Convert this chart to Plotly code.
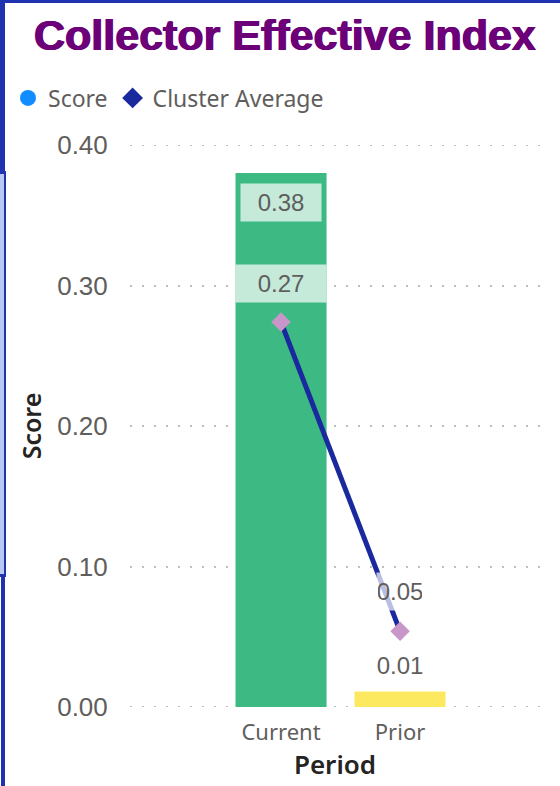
import plotly.graph_objects as go

# ---- data ----
periods = ["Current", "Prior"]
score = [0.38, 0.011]
score_labels = ["0.38", "0.01"]
cluster_avg = [0.274, 0.054]
cluster_labels = ["0.27", "0.05"]
bar_colors = ["#3dba84", "#fde95f"]
y_ticks = [0.0, 0.1, 0.2, 0.3, 0.4]
y_ticktext = ["0.00", "0.10", "0.20", "0.30", "0.40"]

W, H = 560, 786
L, R, T, B = 130, 20, 145, 79
pw, ph = W - L - R, H - T - B

def px(x):
    return (x - L) / pw

def py(y):
    return (H - B - y) / ph

fig = go.Figure()

fig.add_trace(go.Bar(
    x=periods, y=score, marker=dict(color=bar_colors, line=dict(width=0)),
    width=0.765, showlegend=False, hoverinfo="skip"))

fig.add_trace(go.Scatter(
    x=periods, y=cluster_avg, mode="lines+markers",
    line=dict(color="#1a2a9e", width=5),
    marker=dict(symbol="diamond", size=15, color="#c896c8", line=dict(width=0)),
    showlegend=False, hoverinfo="skip"))

# legend-only traces
fig.add_trace(go.Scatter(x=[None], y=[None], mode="markers", name="Score",
                         marker=dict(symbol="circle", size=18, color="#118dff")))
fig.add_trace(go.Scatter(x=[None], y=[None], mode="markers", name="Cluster Average",
                         marker=dict(symbol="diamond", size=18, color="#1a2a9e")))

label_font = dict(family="Liberation Sans, Arial", size=24, color="#605e5c")

# score labels
fig.add_annotation(x=periods[0], y=score[0], text=score_labels[0], showarrow=False,
                   yshift=-29, font=label_font, bgcolor="rgba(255,255,255,0.7)",
                   width=78, height=35)
fig.add_annotation(x=periods[1], y=score[1], text=score_labels[1], showarrow=False,
                   yshift=26, font=label_font, bgcolor="rgba(255,255,255,0.7)",
                   width=78, height=35)
# cluster labels
fig.add_annotation(x=periods[0], y=cluster_avg[0], text=cluster_labels[0], showarrow=False,
                   yshift=39, font=label_font, bgcolor="rgba(255,255,255,0.7)",
                   width=88, height=35)
fig.add_annotation(x=periods[1], y=cluster_avg[1], text=cluster_labels[1], showarrow=False,
                   yshift=40, font=label_font, bgcolor="rgba(255,255,255,0.7)",
                   width=44, height=35)

# title
fig.add_annotation(xref="paper", yref="paper", x=px(285), y=py(35), text="<b>Collector Effective Index</b>",
                   showarrow=False, xanchor="center", yanchor="middle",
                   font=dict(family="Liberation Sans, Arial", size=43, color="#6b0078",
                             shadow="0.7px 0 0 #6b0078, -0.7px 0 0 #6b0078"))

# frame borders (visual cropping edges)
dark = "#1f33b0"
light = "#b8c8f0"
shapes = [
    dict(type="rect", xref="paper", yref="paper", x0=px(0), x1=px(W), y0=py(0), y1=py(3),
         fillcolor=dark, line=dict(width=0), layer="above"),
    dict(type="rect", xref="paper", yref="paper", x0=px(0), x1=px(5), y0=py(0), y1=py(172),
         fillcolor=dark, line=dict(width=0), layer="above"),
    dict(type="rect", xref="paper", yref="paper", x0=px(0), x1=px(4), y0=py(172), y1=py(575),
         fillcolor=light, line=dict(width=0), layer="above"),
    dict(type="rect", xref="paper", yref="paper", x0=px(4), x1=px(6), y0=py(172), y1=py(575),
         fillcolor=dark, line=dict(width=0), layer="above"),
    dict(type="rect", xref="paper", yref="paper", x0=px(0), x1=px(6), y0=py(171), y1=py(174),
         fillcolor=dark, line=dict(width=0), layer="above"),
    dict(type="rect", xref="paper", yref="paper", x0=px(0), x1=px(6), y0=py(574), y1=py(577),
         fillcolor=dark, line=dict(width=0), layer="above"),
    dict(type="rect", xref="paper", yref="paper", x0=px(1), x1=px(5), y0=py(577), y1=py(H),
         fillcolor=dark, line=dict(width=0), layer="above"),
]
# edge gridlines (plotly hides gridlines lying on the plot-area edges)
for yv in (y_ticks[0], y_ticks[-1]):
    shapes.append(dict(type="line", xref="paper", yref="y", x0=0, x1=1, y0=yv, y1=yv,
                       line=dict(color="#c0bebc", width=2, dash="2px,10px"), layer="below"))

fig.update_layout(
    width=W, height=H,
    margin=dict(l=L, r=R, t=T, b=B, autoexpand=False),
    paper_bgcolor="white", plot_bgcolor="white",
    shapes=shapes,
    showlegend=True,
    legend=dict(orientation="h", x=px(8), y=py(98), xanchor="left", yanchor="middle",
                font=dict(family="Noto Sans, Open Sans", size=23, color="#605e5c"),
                itemwidth=30, tracegroupgap=0, bgcolor="rgba(0,0,0,0)"),
    xaxis=dict(
        type="category", range=[-1.269, 2.176], showgrid=False, zeroline=False, showline=False,
        ticks="outside", ticklen=6, tickcolor="rgba(0,0,0,0)",
        tickfont=dict(family="Noto Sans, Open Sans", size=22, color="#605e5c"),
        title=dict(text="Period", standoff=10,
                   font=dict(family="Noto Sans, Open Sans", size=26, color="#252423", weight=600)),
    ),
    yaxis=dict(
        range=[0, 0.4], tickvals=y_ticks, ticktext=y_ticktext,
        showgrid=True, gridcolor="#c0bebc", gridwidth=2, griddash="2px,10px",
        zeroline=False, showline=False,
        ticks="outside", ticklen=16, tickcolor="rgba(0,0,0,0)",
        tickfont=dict(family="Liberation Sans, Arial", size=26, color="#605e5c"),
        title=dict(text="Score", standoff=8,
                   font=dict(family="Noto Sans, Open Sans", size=25, color="#252423", weight=600)),
    ),
)

fig.write_html("out.html", config={"displayModeBar": False},
               post_script="document.body.style.margin='0';document.body.style.padding='0';")
